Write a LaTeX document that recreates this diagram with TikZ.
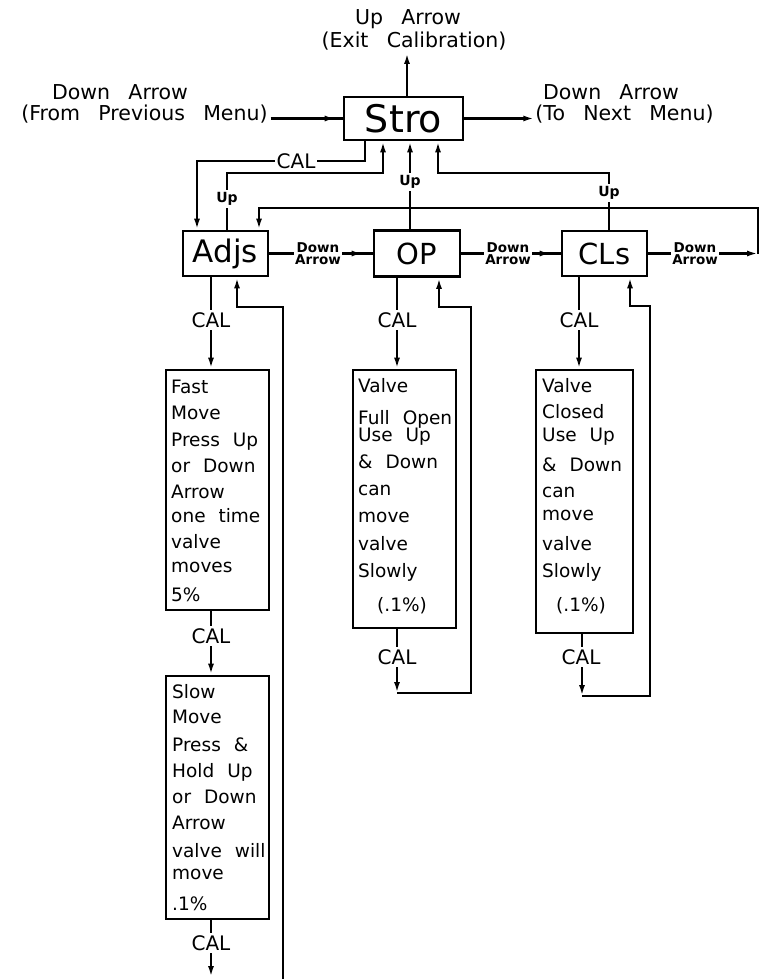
\documentclass[tikz,border=0pt]{standalone}
\usepackage{fontspec}
\setmainfont[WordSpace=2.2]{DejaVu Sans}
\newfontfamily\widefont[WordSpace=2.8]{DejaVu Sans}
\usetikzlibrary{arrows.meta,calc}
\tikzset{
  box/.style={draw, line width=2.8pt, inner sep=0pt},
  ln/.style={line width=2.2pt},
  arr/.style={ln, -{Latex[length=11pt,width=6pt]}},
  lbl/.style={fill=white, inner sep=2pt, font=\fontsize{20}{21}\selectfont},
  uplbl/.style={fill=white, inner sep=2pt, font=\bfseries\fontsize{14}{15}\selectfont},
  dlbl/.style={fill=white, inner sep=1pt, align=center, font=\bfseries\fontsize{13.5}{12}\selectfont},
  vtext/.style={anchor=base west, inner sep=0pt, font=\fontsize{18.5}{20}\selectfont},
  big/.style={anchor=base, inner sep=0pt, font=\widefont\fontsize{20.5}{22}\selectfont},
}
\begin{document}
\begin{tikzpicture}[x=1pt,y=-1pt]
\useasboundingbox[fill=white] (0,0) rectangle (765,979);

% main boxes
\node[box, minimum width=119pt, minimum height=43pt, font=\fontsize{38}{40}\selectfont] (stro) at (403.5,118.5) {Stro};
\node[box, minimum width=85pt, minimum height=45pt, font=\fontsize{31}{32}\selectfont] (adjs) at (225.5,253.5) {Adjs};
\node[box, minimum width=86pt, minimum height=46pt, font=\fontsize{29}{30}\selectfont] (op) at (417,253.5) {OP};
\node[box, minimum width=85pt, minimum height=45pt, font=\fontsize{29}{30}\selectfont] (cls) at (604.5,253.5) {CLs};

% value boxes
\node[box, minimum width=103pt, minimum height=240pt] (fast) at (217.5,490) {};
\node[box, minimum width=103pt, minimum height=243pt] (slow) at (217.5,797.5) {};
\node[box, minimum width=103pt, minimum height=258pt] (opv) at (404.5,499) {};
\node[box, minimum width=97pt, minimum height=263pt] (clv) at (584.5,501.5) {};

% box texts
\foreach \t/\y [count=\i] in {Fast/393, Move/419, Press Up/446, or Down/472, Arrow/498, one time/522, valve/548, moves/572, 5\%/601}
  \node[vtext] (fast-\i) at (171,\y) {\t};
\foreach \t/\y [count=\i] in {Slow/698, Move/723, Press \&/751, Hold Up/777, or Down/803, Arrow/829, valve will/857, move/879, .1\%/910}
  \node[vtext] (slow-\i) at (172,\y) {\t};
\foreach \t/\y [count=\i] in {Valve/392, Full Open/424, Use Up/441, \& Down/468, can/495, move/522, valve/550, Slowly/577}
  \node[vtext] (opv-\i) at (358,\y) {\t};
\node[vtext, anchor=base] (opv-9) at (402,611) {(.1\%)};
\foreach \t/\y [count=\i] in {Valve/392, Closed/418, Use Up/441, \& Down/471, can/497, move/520, valve/550, Slowly/577}
  \node[vtext] (clv-\i) at (542,\y) {\t};
\node[vtext, anchor=base] (clv-9) at (581,611) {(.1\%)};

% top texts
\node[big] (exit1) at (408,25) {Up Arrow};
\node[big] (exit2) at (414,48) {(Exit Calibration)};
\node[big] (from1) at (120,100) {Down Arrow};
\node[big] (from2) at (144.5,121) {(From Previous Menu)};
\node[big] (to1) at (611,100) {Down Arrow};
\node[big] (to2) at (624.5,121) {(To Next Menu)};

% top arrows
\coordinate (exitpt) at (407,53);
\draw[arr] (stro.north -| exitpt) -- (exitpt);
\draw[ln] ([xshift=3pt]from2.east |- stro.west) -- (stro.west);
\draw[arr, shorten >=7pt] ([xshift=3pt]from2.east |- stro.west) -- (stro.west);
\draw[arr] (stro.east) -- ([xshift=-1pt]to2.west |- stro.east);

% CAL from Stro to Adjs
\coordinate (c1) at (365,161);
\coordinate (c2) at (197,161);
\draw[arr] (stro.south -| c1) -- (c1) -- (c2) -- (adjs.north -| c2);

% Up from Adjs
\coordinate (u1) at (227,173);
\coordinate (u2) at (383,173);
\draw[arr] (adjs.north -| u1) -- (u1) -- (u2) -- (stro.south -| u2);

% Up from OP
\coordinate (m1) at (410,182);
\draw[arr] (op.north -| m1) -- (stro.south -| m1);

% Up from CLs
\coordinate (r1) at (438,173);
\coordinate (r2) at (609,173);
\draw[arr] (cls.north -| r2) -- (r2) -- (r1) -- (stro.south -| r1);

% wrap from CLs to Adjs
\coordinate (w1) at (758,253.5);
\coordinate (w2) at (758,208);
\coordinate (w3) at (259,208);
\draw[arr] (cls.east) -- (w1);
\draw[arr] (w1) -- (w2) -- (w3) -- (adjs.north -| w3);

% between boxes
\draw[ln] (adjs.east) -- (op.west);
\draw[arr, shorten >=10pt] (adjs.east) -- (op.west);
\draw[ln] (op.east) -- (cls.west);
\draw[arr, shorten >=10pt] (op.east) -- (cls.west);

% Adjs column
\coordinate (acal) at (211,320);
\draw[arr] (adjs.south -| acal) -- (fast.north -| acal);
\coordinate (l1) at (283,979);
\coordinate (l2) at (283,307);
\coordinate (l3) at (237,307);
\draw[arr] (l1) -- (l2) -- (l3) -- (adjs.south -| l3);
\coordinate (fcal) at (211,636);
\draw[arr] (fast.south -| fcal) -- (slow.north -| fcal);
\coordinate (send) at (211,977);
\draw[arr] (slow.south -| send) -- (send);

% OP column
\coordinate (ocal) at (397,320);
\draw[arr] (op.south -| ocal) -- (opv.north -| ocal);
\coordinate (o1) at (397,693);
\coordinate (o2) at (471,693);
\coordinate (o3) at (471,307);
\coordinate (o4) at (439,307);
\draw[arr] (opv.south -| o1) -- (o1);
\draw[arr] (o1) -- (o2) -- (o3) -- (o4) -- (op.south -| o4);

% CLs column
\coordinate (kcal) at (579,320);
\draw[arr] (cls.south -| kcal) -- (clv.north -| kcal);
\coordinate (k1) at (582,696);
\coordinate (k2) at (650,696);
\coordinate (k3) at (650,306);
\coordinate (k4) at (630,306);
\draw[arr] (clv.south -| k1) -- (k1);
\draw[arr] (k1) -- (k2) -- (k3) -- (k4) -- (cls.south -| k4);

% labels on lines
\node[lbl] (cal0) at (296,161) {CAL};
\node[uplbl] (up1) at (227,199) {Up};
\node[uplbl] (up2) at (m1) {Up};
\node[uplbl] (up3) at (609,193) {Up};
\node[dlbl] (d1) at (318,253.5) {Down\\Arrow};
\node[dlbl] (d2) at (508,253.5) {Down\\Arrow};
\node[dlbl] (d3) at (695,253.5) {Down\\Arrow};
\node[lbl] (cal1) at (acal) {CAL};
\node[lbl] (cal2) at (fcal) {CAL};
\node[lbl] (cal3) at (211,943) {CAL};
\node[lbl] (cal4) at (ocal) {CAL};
\node[lbl] (cal5) at (397,657) {CAL};
\node[lbl] (cal6) at (kcal) {CAL};
\node[lbl] (cal7) at (581,657) {CAL};
\end{tikzpicture}
\end{document}
